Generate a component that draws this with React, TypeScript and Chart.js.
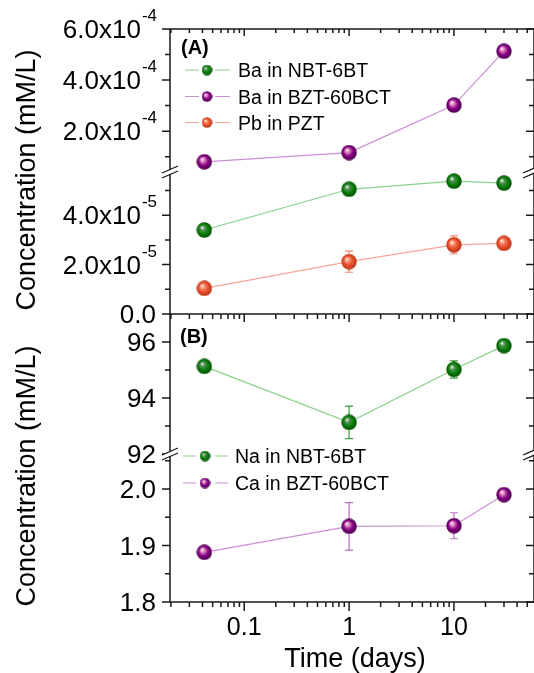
import React, { useEffect, useRef } from 'react';
import { Chart, registerables } from 'chart.js';

Chart.register(...registerables);

// ---------------- data ----------------
const days = [1 / 24, 1, 10, 30];

const baNBT = [3.4e-5, 5.05e-5, 5.38e-5, 5.3e-5];
const baBZT = [0.8e-4, 1.16e-4, 3.02e-4, 5.13e-4];
const pbPZT = [1.04e-5, 2.12e-5, 2.8e-5, 2.86e-5];
const pbErr = [0, 0.43e-5, 0.36e-5, 0.08e-5];

const naNBT = [95.13, 93.13, 95.02, 95.87];
const naErr = [0, 0.58, 0.31, 0.1];
const caBZT = [1.888, 1.934, 1.935, 1.99];
const caErr = [0, 0.042, 0.023, 0.005];

// axis ranges
const xRange = [0.0196, 58];
const aTopRange = [0.4e-4, 6e-4];
const aBotRange = [0, 5.75e-5];
const bTopRange = [92, 97];
const bBotRange = [1.8, 2.062];

// tick values / labels
const aTopMajor = [2e-4, 4e-4, 6e-4];
const aTopLabels = [['2.0x10', '-4'], ['4.0x10', '-4'], ['6.0x10', '-4']];
const aTopMinor = [1e-4, 3e-4, 5e-4];
const aBotMajor = [0, 2e-5, 4e-5];
const aBotLabels = [['0.0', ''], ['2.0x10', '-5'], ['4.0x10', '-5']];
const aBotMinor = [1e-5, 3e-5, 5e-5];
const bTopMajor = [92, 94, 96];
const bTopLabels = [['92', ''], ['94', ''], ['96', '']];
const bTopMinor = [93, 95];
const bBotMajor = [1.8, 1.9, 2.0];
const bBotLabels = [['1.8', ''], ['1.9', ''], ['2.0', '']];
const bBotMinor = [1.85, 1.95, 2.05];
const xMajor = [0.1, 1, 10];
const xLabels = ['0.1', '1', '10'];
const xMinorMantissas = [2, 3, 4, 5, 6, 7, 8, 9];
const xDecades = [0.01, 0.1, 1, 10];

const legendA = ['Ba in NBT-6BT', 'Ba in BZT-60BCT', 'Pb in PZT'];
const legendB = ['Na in NBT-6BT', 'Ca in BZT-60BCT'];
const yTitle = 'Concentration (mM/L)';
const xTitle = 'Time (days)';

const FF = '"Liberation Sans", Arial, Helvetica, sans-serif';

const GREEN = { line: '#8ad08a', err: '#3a9a3a', hi: '#eeeeee', mid: '#4f8f4f', base: '#0b820b', edge: '#004d00' };
const PURPLE = { line: '#c98fd2', err: '#b86cc4', hi: '#ffe6f2', mid: '#d77ab8', base: '#870087', edge: '#4c004c' };
const ORANGE = { line: '#f6a696', err: '#f08a78', hi: '#fff0ea', mid: '#f88a6c', base: '#e8502e', edge: '#b93516' };

function makeSphere(d: number, c: any) {
  const cv = document.createElement('canvas');
  cv.width = d;
  cv.height = d;
  const g = cv.getContext('2d')!;
  const r = d / 2 - 0.3;
  const cx = d / 2;
  const grad = g.createRadialGradient(cx - r * 0.3, cx - r * 0.35, r * 0.04, cx, cx, r);
  grad.addColorStop(0, c.hi);
  grad.addColorStop(0.28, c.mid);
  grad.addColorStop(0.6, c.base);
  grad.addColorStop(1, c.edge);
  g.fillStyle = grad;
  g.beginPath();
  g.arc(cx, cx, r, 0, Math.PI * 2);
  g.fill();
  return cv;
}

export default function App() {
  const ref = useRef<HTMLCanvasElement | null>(null);

  useEffect(() => {
    const canvas = ref.current;
    if (!canvas) return;

    const colors = [GREEN, PURPLE, ORANGE, GREEN, PURPLE];
    const big = colors.map((c) => makeSphere(16, c));
    const small = colors.map((c) => makeSphere(11, c));

    const mk = (label: string, vals: number[], axis: string, idx: number, err: number[] | null) => ({
      label,
      data: days.map((d, i) => ({ x: d, y: vals[i] })),
      yAxisID: axis,
      borderColor: colors[idx].line,
      backgroundColor: colors[idx].base,
      borderWidth: 1.2,
      pointStyle: big[idx],
      pointRadius: 7,
      showLine: true,
      fill: false,
      tension: 0,
      errors: err,
      errColor: colors[idx].err,
    });

    const datasets: any[] = [
      mk(legendA[0], baNBT, 'yAB', 0, null),
      mk(legendA[1], baBZT, 'yAT', 1, null),
      mk(legendA[2], pbPZT, 'yAB', 2, pbErr),
      mk(legendB[0], naNBT, 'yBT', 3, naErr),
      mk(legendB[1], caBZT, 'yBB', 4, caErr),
    ];

    const hiddenY = (range: number[], weight: number) => ({
      type: 'linear',
      position: 'left',
      stack: 'left',
      stackWeight: weight,
      min: range[0],
      max: range[1],
      ticks: { display: false },
      grid: { display: false },
      border: { display: false },
      afterFit: (s: any) => {
        s.width = 0;
      },
    });

    const errorBars = {
      id: 'errorBars',
      beforeDatasetsDraw(chart: any) {
        const ctx = chart.ctx;
        const xs = chart.scales.x;
        chart.data.datasets.forEach((ds: any) => {
          if (!ds.errors) return;
          const ys = chart.scales[ds.yAxisID];
          ctx.save();
          ctx.strokeStyle = ds.errColor;
          ctx.lineWidth = 1.2;
          ds.data.forEach((p: any, i: number) => {
            const e = ds.errors[i];
            if (!e) return;
            const x = xs.getPixelForValue(p.x);
            const y1 = ys.getPixelForValue(p.y - e);
            const y2 = ys.getPixelForValue(p.y + e);
            ctx.beginPath();
            ctx.moveTo(x, y1);
            ctx.lineTo(x, y2);
            ctx.moveTo(x - 4, y1);
            ctx.lineTo(x + 4, y1);
            ctx.moveTo(x - 4, y2);
            ctx.lineTo(x + 4, y2);
            ctx.stroke();
          });
          ctx.restore();
        });
      },
    };

    const decor = {
      id: 'decor',
      afterDraw(chart: any) {
        const ctx = chart.ctx;
        const { left, right, top, bottom } = chart.chartArea;
        const xs = chart.scales.x;
        const yAT = chart.scales.yAT;
        const yAB = chart.scales.yAB;
        const yBT = chart.scales.yBT;
        const yBB = chart.scales.yBB;
        const mid = yBT.top;
        ctx.save();
        ctx.strokeStyle = '#1a1a1a';
        ctx.fillStyle = '#000';
        ctx.lineWidth = 1.5;

        // frame
        ctx.beginPath();
        ctx.moveTo(left, top);
        ctx.lineTo(right, top);
        ctx.moveTo(left, mid);
        ctx.lineTo(right, mid);
        ctx.moveTo(left, bottom);
        ctx.lineTo(right, bottom);
        ctx.moveTo(left, top);
        ctx.lineTo(left, bottom);
        ctx.moveTo(right, top);
        ctx.lineTo(right, bottom);
        ctx.stroke();

        // y ticks
        const yTicks = (s: any, major: number[], minor: number[]) => {
          ctx.beginPath();
          major.forEach((v) => {
            const y = s.getPixelForValue(v);
            ctx.moveTo(left - 8, y);
            ctx.lineTo(left, y);
            ctx.moveTo(right - 8, y);
            ctx.lineTo(right, y);
          });
          minor.forEach((v) => {
            if (v > s.max || v < s.min) return;
            const y = s.getPixelForValue(v);
            ctx.moveTo(left - 5, y);
            ctx.lineTo(left, y);
            ctx.moveTo(right - 5, y);
            ctx.lineTo(right, y);
          });
          ctx.stroke();
        };
        yTicks(yAT, aTopMajor, aTopMinor);
        yTicks(yAB, aBotMajor, aBotMinor);
        yTicks(yBT, bTopMajor, bTopMinor);
        yTicks(yBB, bBotMajor, bBotMinor);

        // x ticks
        const xMinor: number[] = [];
        xDecades.forEach((d) => xMinorMantissas.forEach((m) => xMinor.push(m * d)));
        const xTicks = (y: number, dir: number, maj: number, mn: number) => {
          ctx.beginPath();
          xMajor.forEach((v) => {
            const x = xs.getPixelForValue(v);
            ctx.moveTo(x, y);
            ctx.lineTo(x, y + dir * maj);
          });
          xMinor.forEach((v) => {
            if (v < xs.min || v > xs.max) return;
            const x = xs.getPixelForValue(v);
            ctx.moveTo(x, y);
            ctx.lineTo(x, y + dir * mn);
          });
          ctx.stroke();
        };
        xTicks(top, 1, 7, 4);
        xTicks(mid, 1, 8, 5);
        xTicks(bottom, 1, 9, 5);

        // axis breaks
        const brk = (x: number, y: number) => {
          ctx.save();
          ctx.fillStyle = '#fff';
          ctx.beginPath();
          ctx.moveTo(x - 8, y + 1.5);
          ctx.lineTo(x + 8, y - 5.5);
          ctx.lineTo(x + 8, y - 1.5);
          ctx.lineTo(x - 8, y + 5.5);
          ctx.closePath();
          ctx.fill();
          ctx.lineWidth = 1.3;
          ctx.beginPath();
          ctx.moveTo(x - 8, y + 1);
          ctx.lineTo(x + 8, y - 6);
          ctx.moveTo(x - 8, y + 6);
          ctx.lineTo(x + 8, y - 1);
          ctx.stroke();
          ctx.restore();
        };
        brk(left, yAT.bottom);
        brk(right - 3, yAT.bottom);
        brk(left, yBT.bottom);
        brk(right - 3, yBT.bottom);

        // y labels
        const yLabels = (s: any, vals: number[], labels: string[][]) => {
          vals.forEach((v, i) => {
            const y = s.getPixelForValue(v);
            const [main, sup] = labels[i];
            const rx = 156;
            ctx.textAlign = 'right';
            ctx.textBaseline = 'alphabetic';
            ctx.font = `17px ${FF}`;
            const sw = sup ? ctx.measureText(sup).width + 1 : 0;
            ctx.font = `26px ${FF}`;
            ctx.fillText(main, rx - sw + (sup ? 1 : 0), y + 9);
            if (sup) {
              ctx.font = `17px ${FF}`;
              ctx.fillText(sup, rx + 1, y - 8);
            }
          });
        };
        yLabels(yAT, aTopMajor, aTopLabels);
        yLabels(yAB, aBotMajor, aBotLabels);
        yLabels(yBT, bTopMajor, bTopLabels);
        yLabels(yBB, bBotMajor, bBotLabels);

        // x labels
        ctx.font = `25px ${FF}`;
        ctx.textAlign = 'center';
        ctx.textBaseline = 'alphabetic';
        xMajor.forEach((v, i) => {
          ctx.fillText(xLabels[i], xs.getPixelForValue(v), bottom + 33);
        });

        // axis titles
        ctx.font = `27px ${FF}`;
        ctx.fillText(xTitle, 355, 667);
        [180, 476].forEach((cy) => {
          ctx.save();
          ctx.translate(35, cy);
          ctx.rotate(-Math.PI / 2);
          ctx.textAlign = 'center';
          ctx.fillText(yTitle, 0, 0);
          ctx.restore();
        });

        // panel labels
        ctx.font = `bold 20px ${FF}`;
        ctx.textAlign = 'left';
        ctx.fillText('(A)', left + 11, top + 25);
        ctx.fillText('(B)', left + 10, mid + 29);

        // legends
        const legend = (items: string[], rows: number[], idx: number[], x0: number, x1: number, mx: number, x2: number, x3: number, tx: number) => {
          items.forEach((t, i) => {
            const y = rows[i];
            const c = colors[idx[i]];
            ctx.strokeStyle = c.line;
            ctx.lineWidth = 1.2;
            ctx.beginPath();
            ctx.moveTo(x0, y);
            ctx.lineTo(x1, y);
            ctx.moveTo(x2, y);
            ctx.lineTo(x3, y);
            ctx.stroke();
            const img = small[idx[i]];
            ctx.drawImage(img, mx - img.width / 2, y - img.height / 2);
            ctx.fillStyle = '#000';
            ctx.font = `19.5px ${FF}`;
            ctx.textAlign = 'left';
            ctx.fillText(t, tx, y + 7);
          });
        };
        legend(legendA, [70, 96.5, 122.5], [0, 1, 2], 185, 199, 207, 215, 230, 238);
        legend(legendB, [456, 483], [3, 4], 183, 196, 205, 215, 228, 235);

        ctx.restore();
      },
    };

    const chart = new Chart(canvas, {
      type: 'line',
      data: { datasets },
      options: {
        responsive: false,
        animation: false,
        events: [],
        layout: { autoPadding: false, padding: { left: 170, top: 29, right: 0, bottom: 71 } },
        plugins: { legend: { display: false }, tooltip: { enabled: false } },
        scales: {
          x: {
            type: 'logarithmic',
            min: xRange[0],
            max: xRange[1],
            ticks: { display: false },
            grid: { display: false },
            border: { display: false },
            afterFit: (s: any) => {
              s.height = 0;
            },
          },
          yBB: hiddenY(bBotRange, 148),
          yBT: hiddenY(bTopRange, 140),
          yAB: hiddenY(aBotRange, 142),
          yAT: hiddenY(aTopRange, 143),
        } as any,
      },
      plugins: [errorBars, decor],
    } as any);

    return () => chart.destroy();
  }, []);

  return (
    <div style={{ position: 'absolute', left: 0, top: 0, width: 534, height: 673, background: '#fff' }}>
      <canvas ref={ref} width={534} height={673} style={{ display: 'block' }} />
    </div>
  );
}
